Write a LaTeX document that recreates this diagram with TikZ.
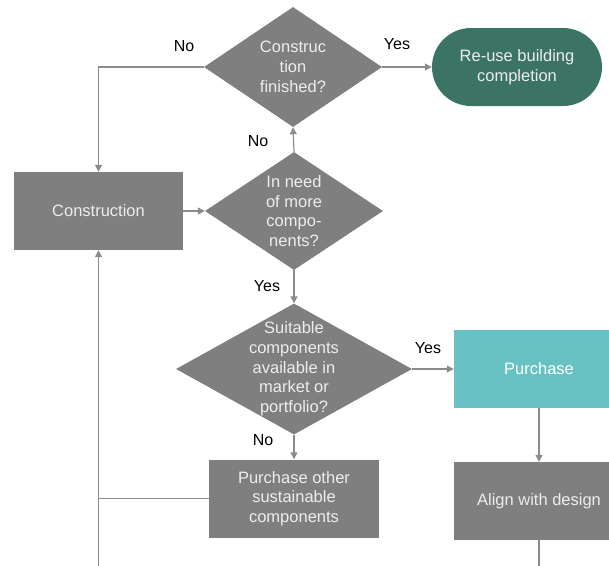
\documentclass[tikz,border=0pt]{standalone}
\usepackage{fontspec}
\setmainfont{Liberation Sans}
\usetikzlibrary{shapes.geometric,arrows.meta}
\definecolor{boxgray}{HTML}{7F7F7F}
\definecolor{boxtext}{HTML}{EDEDED}
\definecolor{endgreen}{HTML}{3B7464}
\definecolor{buyteal}{HTML}{67C3C3}
\definecolor{linegray}{HTML}{8C8C8C}
\tikzset{
  basefont/.style={font=\fontsize{16.5}{19.7}\selectfont},
  procbox/.style={rectangle, fill=boxgray, text=boxtext, inner sep=0pt,
    minimum width=170pt, minimum height=78pt, align=center, basefont},
  decision/.style={diamond, fill=boxgray, inner sep=0pt},
  dtext/.style={text=boxtext, align=center, basefont, inner sep=0pt},
  flowline/.style={draw=linegray, line width=1.2pt},
  flow/.style={flowline, -{Triangle[length=7pt,width=7pt]}},
  answer/.style={text=black, font=\fontsize{16}{18}\selectfont, inner sep=0pt}
}
\begin{document}
\begin{tikzpicture}[x=1pt,y=-1pt]
\useasboundingbox (0,0) rectangle (609,565);
\clip (0,0) rectangle (609,565);

% decisions
\node[decision, minimum width=178pt, minimum height=120pt,
  label={[dtext]center:Construc\\tion\\finished?}] (fin) at (293,67) {};
\node[decision, minimum width=178pt, minimum height=118pt,
  label={[dtext]center:In need\\of more\\compo-\\nents?}] (need) at (294,211) {};
\node[decision, minimum width=236pt, minimum height=131pt,
  label={[dtext]center:Suitable\\components\\available in\\market or\\portfolio?}] (suit) at (294,369) {};

% process boxes
\node[procbox, minimum width=169pt] (cons) at (98.5,211) {Construction};
\node[procbox, fill=endgreen, rounded corners=39pt] (reuse) at (517,67) {Re-use building\\completion};
\node[procbox, fill=buyteal, text=white] (buy) at (539,368.5) {Purchase};
\node[procbox] (align) at (539,501) {Align with design};
\node[procbox] (other) at (294,498.5) {Purchase other\\sustainable\\components};

% loose ends at the lower edge
\coordinate (loopin) at (98.5,570);
\coordinate (alignout) at (539,570);

% connectors
\draw[flow] (fin.east) -- (reuse.west);
\draw[flow] (fin.west) -| (cons.north);
\draw[flow] (cons.east) -- (need.west);
\draw[flow] (need.north) -- (fin.south);
\draw[flow] (need.south) -- (suit.north);
\draw[flow] (suit.east) -- (suit.east -| buy.west);
\draw[flow] (suit.south) -- (other.north);
\draw[flow] (buy.south) -- (align.north);
\draw[flowline] (align.south) -- (alignout);
\draw[flow] (loopin) -- (cons.south);
\draw[flowline] (other.west) -- (other.west -| cons.south);

% answers
\node[answer] (a1) at (184,46) {No};
\node[answer] (a2) at (397,44) {Yes};
\node[answer] (a3) at (258,141) {No};
\node[answer] (a4) at (267,286) {Yes};
\node[answer] (a5) at (428,348) {Yes};
\node[answer] (a6) at (263,440) {No};
\end{tikzpicture}
\end{document}
